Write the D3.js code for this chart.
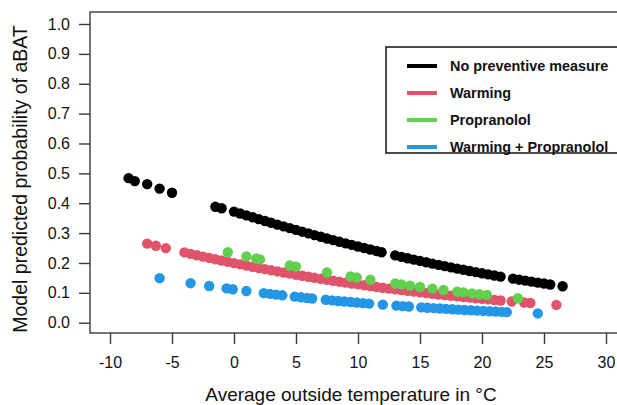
<!DOCTYPE html>
<html>
<head>
<meta charset="utf-8">
<script src="https://cdn.jsdelivr.net/npm/d3@7"></script>
<style>
  html, body { margin: 0; padding: 0; background: #fff; }
  svg { display: block; font-family: Arial, "Liberation Sans", sans-serif; }
</style>
</head>
<body>
<svg id="chart" width="617" height="405"></svg>
<script>
// ---------- data ----------
const seriesNames = ["No preventive measure", "Warming", "Propranolol", "Warming + Propranolol"];
const seriesColors = ["#000000", "#DF536B", "#61D04F", "#2297E6"];

const xTicks = [-10, -5, 0, 5, 10, 15, 20, 25, 30];
const yTicks = [0, 0.1, 0.2, 0.3, 0.4, 0.5, 0.6, 0.7, 0.8, 0.9, 1.0];

const noMeasureTemp = [-8.5, -8.0, -7.0, -6.0, -5.0, -1.5, -1.0,
  0, 0.5, 1, 1.5, 2, 2.5, 3, 3.5, 4, 4.5, 5, 5.5, 6, 6.5, 7, 7.5, 8, 8.5, 9, 9.5, 10, 10.5, 11, 11.5, 11.9,
  13, 13.5, 14, 14.5, 15, 15.5, 16, 16.5, 17, 17.5, 18, 18.5, 19, 19.5, 20, 20.5, 21, 21.5,
  22.5, 23, 23.5, 24, 24.5, 25, 25.5, 26.5];
const noMeasureProb = [0.484, 0.474, 0.464, 0.449, 0.435, 0.388, 0.383,
  0.372, 0.3655, 0.3592, 0.3529, 0.3467, 0.3406, 0.3344, 0.3284, 0.3224, 0.3165, 0.3106, 0.3047, 0.2990, 0.2933, 0.2876, 0.2820, 0.2766, 0.2711, 0.2657, 0.2604, 0.2552, 0.2500, 0.2450, 0.2399, 0.2360,
  0.2253, 0.2205, 0.2159, 0.2113, 0.2068, 0.2023, 0.1979, 0.1936, 0.1894, 0.1852, 0.1811, 0.1771, 0.1732, 0.1692, 0.1655, 0.1617, 0.1580, 0.1544,
  0.1474, 0.1440, 0.1407, 0.1374, 0.1342, 0.1311, 0.1280, 0.1220];

const warmingTemp = [-7.0, -6.3, -5.5,
  -4, -3.5, -3, -2.5, -2, -1.5, -1, -0.5, 0, 0.5, 1, 1.5, 2, 2.5, 3, 3.5, 4, 4.5, 5, 5.5, 6, 6.5, 7, 7.5, 8, 8.5, 9, 9.5,
  10, 10.5, 11, 11.5, 12, 12.5, 13, 13.5, 14, 14.5, 15, 15.5, 16, 16.5, 17, 17.5, 18, 18.5, 19, 19.5, 20, 20.5, 21, 21.5,
  22.4, 23.4, 23.9, 26.0];
const warmingProb = [0.2648, 0.2577, 0.2497,
  0.2352, 0.2305, 0.2259, 0.2213, 0.2168, 0.2123, 0.2080, 0.2036, 0.1994, 0.1952, 0.1911, 0.1871, 0.1831, 0.1792, 0.1754, 0.1716, 0.1679, 0.1642, 0.1606, 0.1571, 0.1537, 0.1503, 0.1469, 0.1436, 0.1404, 0.1373, 0.1342, 0.1312,
  0.1282, 0.1253, 0.1224, 0.1196, 0.1169, 0.1142, 0.1116, 0.1090, 0.1064, 0.1039, 0.1015, 0.0991, 0.0968, 0.0945, 0.0923, 0.0901, 0.0880, 0.0859, 0.0838, 0.0818, 0.0799, 0.0780, 0.0761, 0.0743,
  0.0711, 0.0677, 0.0660, 0.0595];

const propranololTemp = [-0.5, 1.0, 1.8, 2.1, 4.5, 5.0, 7.5, 9.4, 9.9, 11.0, 13.0, 13.5, 14.2, 15.0, 16.0, 16.9, 18.0, 18.5, 19.2, 19.8, 20.4, 22.9];
const propranololProb = [0.2360, 0.2219, 0.2147, 0.2120, 0.1915, 0.1875, 0.1681, 0.1545, 0.1511, 0.1437, 0.1312, 0.1282, 0.1241, 0.1196, 0.1141, 0.1094, 0.1038, 0.1014, 0.0980, 0.0953, 0.0926, 0.0820];

const bothTemp = [-6.0, -3.5, -2.0, -0.6, -0.1, 1.0, 2.4, 2.9, 3.4, 3.9, 4.9, 5.4, 5.9, 6.3,
  7.4, 7.9, 8.4, 8.9, 9.4, 9.9, 10.4, 10.9, 12.0, 13.1, 13.6, 14.1,
  15.1, 15.6, 16.1, 16.6, 17.1, 17.6, 18.1, 18.6, 19.1, 19.6, 20.1, 20.6, 21.1, 21.6, 22.0, 24.5];
const bothProb = [0.1491, 0.1323, 0.1230, 0.1148, 0.1120, 0.1060, 0.0989, 0.0964, 0.0940, 0.0917, 0.0872, 0.0850, 0.0828, 0.0811,
  0.0767, 0.0747, 0.0728, 0.0710, 0.0692, 0.0674, 0.0657, 0.0640, 0.0604, 0.0570, 0.0555, 0.0541,
  0.0513, 0.0500, 0.0487, 0.0474, 0.0462, 0.0449, 0.0438, 0.0426, 0.0415, 0.0404, 0.0394, 0.0383, 0.0373, 0.0363, 0.0355, 0.0310];

const seriesTemps = [noMeasureTemp, warmingTemp, propranololTemp, bothTemp];
const seriesProbs = [noMeasureProb, warmingProb, propranololProb, bothProb];

const xTitle = "Average outside temperature in °C";
const yTitle = "Model predicted probability of aBAT";

// ---------- layout ----------
const svg = d3.select("#chart");
const x = d3.scaleLinear().domain([-10, 30]).range([110, 606]);
const y = d3.scaleLinear().domain([0, 1]).range([322.7, 24]);
const box = { left: 90, top: 12, right: 640, bottom: 333 };
const axisColor = "#3a3a3a";

// points
seriesTemps.forEach((temps, i) => {
  const pts = temps.map((t, j) => ({ t, p: seriesProbs[i][j] }));
  svg.append("g")
    .selectAll("circle")
    .data(pts)
    .join("circle")
    .attr("cx", d => x(d.t))
    .attr("cy", d => y(d.p))
    .attr("r", 5.2)
    .attr("fill", seriesColors[i]);
});

// plot box
svg.append("rect")
  .attr("x", box.left).attr("y", box.top)
  .attr("width", box.right - box.left).attr("height", box.bottom - box.top)
  .attr("fill", "none").attr("stroke", axisColor).attr("stroke-width", 1.4);

// y axis
const yAxis = svg.append("g")
  .attr("transform", `translate(${box.left},0)`)
  .call(d3.axisLeft(y).tickValues(yTicks).tickFormat(d3.format(".1f")).tickSize(11).tickSizeOuter(0).tickPadding(9));
yAxis.select(".domain").remove();
yAxis.selectAll("line").attr("stroke", axisColor).attr("stroke-width", 1.4);
yAxis.selectAll("text").attr("font-size", 16).attr("fill", "#111").attr("font-family", "Arial, 'Liberation Sans', sans-serif");

// x axis
const xAxis = svg.append("g")
  .attr("transform", `translate(0,${box.bottom})`)
  .call(d3.axisBottom(x).tickValues(xTicks).tickFormat(d3.format("d")).tickSize(11).tickSizeOuter(0).tickPadding(13));
xAxis.select(".domain").remove();
xAxis.selectAll("line").attr("stroke", axisColor).attr("stroke-width", 1.4);
xAxis.selectAll("text").attr("font-size", 16).attr("fill", "#111").attr("font-family", "Arial, 'Liberation Sans', sans-serif")
  .text(d => d < 0 ? "-" + Math.abs(d) : d);

// axis titles
svg.append("text")
  .attr("x", 351).attr("y", 401)
  .attr("text-anchor", "middle")
  .attr("font-size", 19).attr("fill", "#111")
  .text(xTitle);

svg.append("text")
  .attr("transform", "translate(27,179) rotate(-90)")
  .attr("text-anchor", "middle")
  .attr("font-size", 19.5).attr("fill", "#111")
  .text(yTitle);

// legend
const legend = svg.append("g");
legend.append("rect")
  .attr("x", 386).attr("y", 47).attr("width", 250).attr("height", 106)
  .attr("fill", "#fff").attr("stroke", "#111").attr("stroke-width", 1.5);
const rowY = [66, 93, 120, 147];
seriesNames.forEach((name, i) => {
  legend.append("line")
    .attr("x1", 407).attr("x2", 437)
    .attr("y1", rowY[i]).attr("y2", rowY[i])
    .attr("stroke", seriesColors[i]).attr("stroke-width", 4);
  legend.append("text")
    .attr("x", 450).attr("y", rowY[i])
    .attr("dy", "0.35em")
    .attr("font-size", 14.4).attr("font-weight", "bold").attr("fill", "#111")
    .text(name);
});
</script>
</body>
</html>
